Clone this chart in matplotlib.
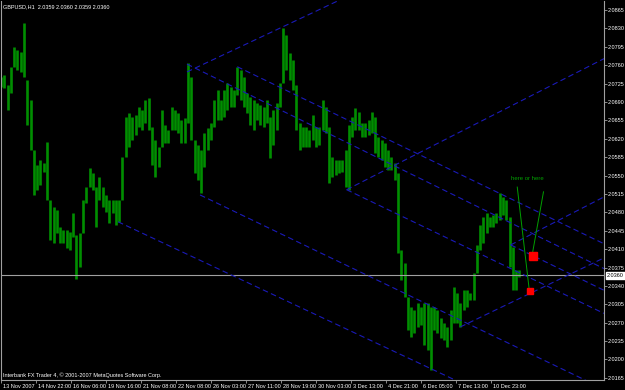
"""GBPUSD H1 bar chart with hand drawn pitchfork channels (MT4 style)."""

import matplotlib
matplotlib.use('Agg')
import matplotlib.pyplot as plt
from matplotlib import transforms

symbol_line = "GBPUSD,H1  2.0359 2.0360 2.0359 2.0360"
copyright_line = "Interbank FX Trader 4, \u00a9 2001-2007 MetaQuotes Software Corp."

# each entry covers 3 hourly bars: high / low of the group
bars_per_group = 3
highs = [
    2.0738, 2.0741, 2.0722, 2.0757, 2.0795, 2.0789, 2.0785, 2.0840, 2.0732, 2.0694,
    2.0599, 2.0570, 2.0580, 2.0574, 2.0614, 2.0504, 2.0490, 2.0485, 2.0452, 2.0447,
    2.0447, 2.0443, 2.0479, 2.0437, 2.0441, 2.0504, 2.0528, 2.0565, 2.0555, 2.0528,
    2.0547, 2.0528, 2.0513, 2.0504, 2.0504, 2.0504, 2.0504, 2.0585, 2.0662, 2.0669,
    2.0662, 2.0665, 2.0681, 2.0675, 2.0694, 2.0698, 2.0642, 2.0618, 2.0604, 2.0675,
    2.0646, 2.0637, 2.0681, 2.0675, 2.0669, 2.0656, 2.0660, 2.0764, 2.0738, 2.0618,
    2.0608, 2.0599, 2.0631, 2.0641, 2.0650, 2.0694, 2.0713, 2.0694, 2.0713, 2.0726,
    2.0719, 2.0713, 2.0757, 2.0751, 2.0738, 2.0707, 2.0700, 2.0694, 2.0688, 2.0684,
    2.0681, 2.0694, 2.0662, 2.0675, 2.0688, 2.0726, 2.0831, 2.0817, 2.0783, 2.0770,
    2.0722, 2.0650, 2.0642, 2.0642, 2.0637, 2.0665, 2.0642, 2.0642, 2.0694, 2.0681,
    2.0642, 2.0585, 2.0580, 2.0580, 2.0580, 2.0599, 2.0646, 2.0662, 2.0679, 2.0671,
    2.0650, 2.0650, 2.0656, 2.0671, 2.0662, 2.0623, 2.0618, 2.0612, 2.0599, 2.0585,
    2.0574, 2.0555, 2.0409, 2.0384, 2.0319, 2.0300, 2.0294, 2.0308, 2.0300, 2.0308,
    2.0308, 2.0300, 2.0300, 2.0294, 2.0279, 2.0270, 2.0262, 2.0294, 2.0338, 2.0327,
    2.0308, 2.0332, 2.0332, 2.0327, 2.0365, 2.0418, 2.0456, 2.0471, 2.0479, 2.0471,
    2.0475, 2.0479, 2.0517, 2.0509, 2.0504, 2.0471, 2.0414, 2.0371, 2.0371,
]
lows = [
    2.0719, 2.0717, 2.0675, 2.0707, 2.0757, 2.0751, 2.0747, 2.0738, 2.0646, 2.0599,
    2.0513, 2.0523, 2.0532, 2.0557, 2.0504, 2.0428, 2.0422, 2.0441, 2.0422, 2.0422,
    2.0412, 2.0409, 2.0433, 2.0353, 2.0376, 2.0441, 2.0498, 2.0528, 2.0523, 2.0452,
    2.0504, 2.0490, 2.0481, 2.0460, 2.0479, 2.0456, 2.0462, 2.0504, 2.0585, 2.0604,
    2.0618, 2.0627, 2.0642, 2.0637, 2.0650, 2.0637, 2.0570, 2.0547, 2.0566, 2.0604,
    2.0612, 2.0612, 2.0637, 2.0637, 2.0631, 2.0612, 2.0612, 2.0650, 2.0618, 2.0555,
    2.0542, 2.0517, 2.0566, 2.0599, 2.0618, 2.0642, 2.0656, 2.0656, 2.0662, 2.0675,
    2.0681, 2.0681, 2.0703, 2.0694, 2.0681, 2.0669, 2.0646, 2.0637, 2.0656, 2.0646,
    2.0642, 2.0650, 2.0584, 2.0608, 2.0637, 2.0681, 2.0726, 2.0751, 2.0732, 2.0713,
    2.0637, 2.0599, 2.0604, 2.0604, 2.0604, 2.0618, 2.0604, 2.0608, 2.0637, 2.0631,
    2.0536, 2.0547, 2.0551, 2.0555, 2.0557, 2.0528, 2.0523, 2.0623, 2.0637, 2.0637,
    2.0623, 2.0623, 2.0627, 2.0631, 2.0593, 2.0585, 2.0580, 2.0566, 2.0561, 2.0561,
    2.0542, 2.0403, 2.0351, 2.0319, 2.0256, 2.0243, 2.0251, 2.0262, 2.0266, 2.0228,
    2.0218, 2.0180, 2.0256, 2.0251, 2.0241, 2.0237, 2.0224, 2.0237, 2.0270, 2.0270,
    2.0262, 2.0294, 2.0300, 2.0313, 2.0313, 2.0365, 2.0409, 2.0422, 2.0441, 2.0452,
    2.0452, 2.0460, 2.0466, 2.0475, 2.0466, 2.0376, 2.0332, 2.0332, 2.0357,
]
last_price = 2.0360

price_ticks = [2.0165, 2.0200, 2.0235, 2.0270, 2.0305, 2.0340, 2.0375, 2.0410,
               2.0445, 2.0480, 2.0515, 2.0550, 2.0585, 2.0620, 2.0655, 2.0690,
               2.0725, 2.0760, 2.0795, 2.0830, 2.0865]
bars_per_label = 32
time_labels = ['13 Nov 2007', '14 Nov 22:00', '16 Nov 06:00', '19 Nov 16:00',
               '21 Nov 08:00', '22 Nov 08:00', '26 Nov 03:00', '27 Nov 11:00',
               '28 Nov 19:00', '30 Nov 03:00', '3 Dec 13:00', '4 Dec 21:00',
               '6 Dec 05:00', '7 Dec 13:00', '10 Dec 23:00']

# trend lines: two anchor points (bar, price), extended to the right edge
fork_lines = [
    (170, 2.0747, 271, 2.0846),
    (170, 2.0762, 365, 2.0563),
    (216, 2.0757, 438, 2.0534),
    (316, 2.0523, 438, 2.0401),
    (182, 2.0513, 534, 2.0161),
    (107, 2.0462, 411, 2.0165),
    (316, 2.0523, 551, 2.0772),
    (420, 2.0262, 551, 2.0393),
    (466, 2.0418, 551, 2.0509),
    (466, 2.0418, 551, 2.0332),
]

# two possible entries and the hand drawn pointers
targets = [(486, 2.0396), (484, 2.0330)]
pointers = [(472, 2.0528, 483, 2.0332), (496, 2.0519, 486, 2.0403)]
note = 'here or here'
note_pos = (481, 2.0545)

FONT = ['Liberation Sans', 'DejaVu Sans']
FS = 4.0


def main():
    plt.rcParams['font.family'] = FONT
    fig = plt.figure(figsize=(6.25, 3.9), dpi=100, facecolor='black')
    ax = fig.add_axes([1 / 625, 10 / 390, 603 / 625, 379 / 390])
    ax.set_facecolor('black')

    x_max = 603 * 32 / 35
    ax.set_xlim(0, x_max)
    ax.set_ylim(2.0161, 2.0882)

    # price bars
    xs = [i * bars_per_group for i in range(len(highs))]
    bars = ax.vlines(xs, lows, highs, color='#008e00', linewidth=1.9)
    bars.set_capstyle('butt')

    # current price
    ax.axhline(last_price, color='#a0a0a0', linewidth=0.8)

    # channel lines
    for b1, p1, b2, p2 in fork_lines:
        slope = (p2 - p1) / (b2 - b1)
        ax.plot([b1, x_max], [p1, p1 + slope * (x_max - b1)],
                color='#1a1ab8', linewidth=0.8, linestyle=(0, (5, 3)))

    # annotation
    for b1, p1, b2, p2 in pointers:
        ax.plot([b1, b2], [p1, p2], color='#00a000', linewidth=0.7)
    ax.plot(*targets[0], marker='s', color='#ff0000', markersize=5.5, linestyle='none')
    ax.plot(*targets[1], marker='s', color='#ff0000', markersize=4.5, linestyle='none')
    ax.text(note_pos[0], note_pos[1], note, color='#00a000', fontsize=FS + 0.3,
            ha='center', va='center')

    ax.text(0.004, 0.992, symbol_line, transform=ax.transAxes, color='white',
            fontsize=FS, ha='left', va='top')
    ax.text(0.003, 0.014, copyright_line, transform=ax.transAxes, color='white',
            fontsize=FS, ha='left', va='center')

    # axes
    for side in ['left', 'right', 'bottom']:
        ax.spines[side].set_color('#a0a0a0')
        ax.spines[side].set_linewidth(0.8)
    ax.spines['top'].set_visible(False)

    ax.yaxis.tick_right()
    ax.set_yticks(price_ticks)
    ax.set_yticklabels([f'{p:.4f}' for p in price_ticks])
    ax.tick_params(axis='y', colors='#a0a0a0', labelcolor='white', labelsize=FS,
                   length=2, width=0.6, pad=1)

    ax.set_xticks([k * bars_per_label for k in range(len(time_labels))])
    ax.set_xticklabels(time_labels)
    ax.tick_params(axis='x', colors='#a0a0a0', labelcolor='white', labelsize=FS,
                   length=2, width=0.6, pad=0.6)
    shift = transforms.ScaledTranslation(2 / 100, 0, fig.dpi_scale_trans)
    for lab in ax.get_xticklabels():
        lab.set_horizontalalignment('left')
        lab.set_transform(lab.get_transform() + shift)

    # current price box on the scale
    box_tr = transforms.blended_transform_factory(ax.transAxes, ax.transData)
    ax.text(1.0 + 3 / 603, last_price, f'{last_price:.4f}', transform=box_tr,
            color='black', fontsize=FS, ha='left', va='center',
            bbox=dict(facecolor='white', edgecolor='white', pad=0.5))

    fig.savefig('out.png', dpi=100, facecolor='black')


if __name__ == '__main__':
    main()
